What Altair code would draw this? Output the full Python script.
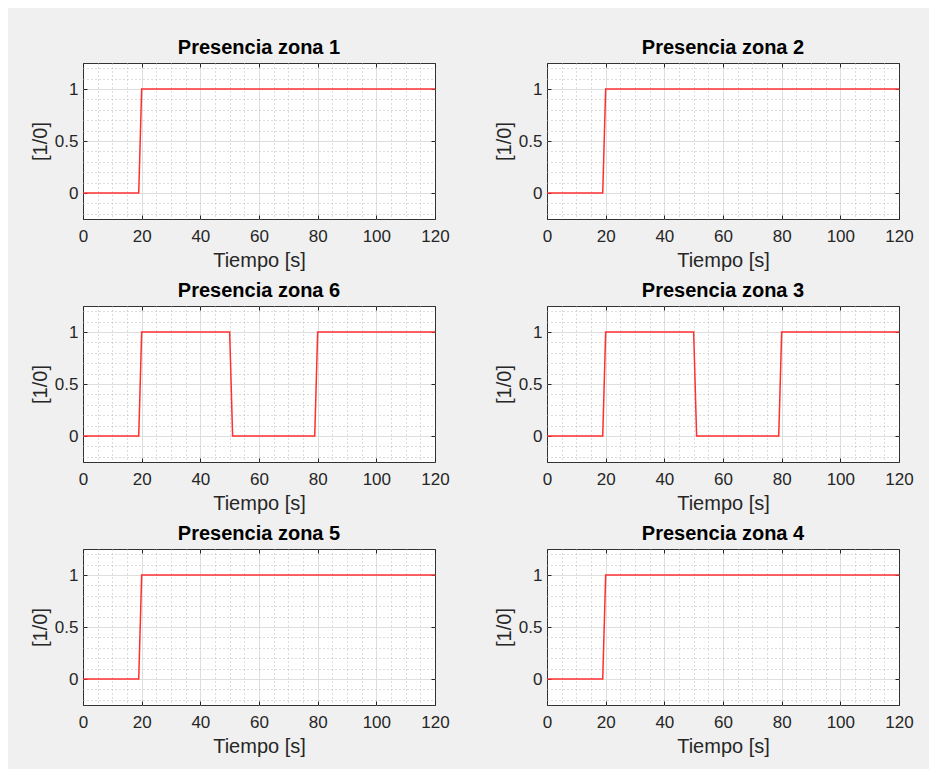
import altair as alt
import pandas as pd

# ---- data ----
panel_titles = ["Presencia zona 1", "Presencia zona 2",
                "Presencia zona 6", "Presencia zona 3",
                "Presencia zona 5", "Presencia zona 4"]
panel_kind = ["step", "step", "pulse", "pulse", "step", "step"]

t_step = [0, 19, 20, 120]
v_step = [0, 0, 1, 1]
t_pulse = [0, 19, 20, 50, 51, 79, 80, 120]
v_pulse = [0, 0, 1, 1, 0, 0, 1, 1]

x_ticks = [0, 20, 40, 60, 80, 100, 120]
x_minor = [v for v in range(0, 121, 5) if v % 20 != 0]
y_ticks = [0, 0.5, 1]
y_minor = [-0.2, -0.1, 0.1, 0.2, 0.3, 0.4, 0.6, 0.7, 0.8, 0.9, 1.1, 1.2]

FONT = "Liberation Sans"
W, H = 352, 156
TICK = 4

hide_edge_grid_x = {"condition": {"test": "datum.value <= 0 || datum.value >= 120", "value": 0}, "value": 1}


def inner_axis(values, orient):
    # axis drawn inside the frame: only tick marks, no labels/grid
    return alt.Axis(values=values, orient=orient, offset=-TICK, tickSize=TICK,
                    ticks=True, tickColor="#262626", tickWidth=1,
                    labels=False, grid=False, domain=False, title=None)


def panel(title, t, v):
    df = pd.DataFrame({"t": t, "v": v})
    xs = alt.Scale(domain=[0, 120], nice=False, zero=False)
    ys = alt.Scale(domain=[-0.25, 1.25], nice=False, zero=False)
    minor = alt.Chart(df).mark_line(opacity=0).encode(
        x=alt.X("t:Q", scale=xs, axis=alt.Axis(
            values=x_minor, grid=True, gridDash=[1, 3], gridColor="#b8b8b8",
            gridWidth=1, labels=False, ticks=False, domain=False, title=None,
            orient="bottom")),
        y=alt.Y("v:Q", scale=ys, axis=alt.Axis(
            values=y_minor, grid=True, gridDash=[1, 3], gridColor="#b8b8b8",
            gridWidth=1, labels=False, ticks=False, domain=False, title=None,
            orient="left")),
    )
    ticks_bl = alt.Chart(df).mark_line(opacity=0).encode(
        x=alt.X("t:Q", scale=xs, axis=inner_axis(x_ticks, "bottom")),
        y=alt.Y("v:Q", scale=ys, axis=inner_axis(y_ticks, "left")),
    )
    ticks_tr = alt.Chart(df).mark_line(opacity=0).encode(
        x=alt.X("t:Q", scale=xs, axis=inner_axis(x_ticks, "top")),
        y=alt.Y("v:Q", scale=ys, axis=inner_axis(y_ticks, "right")),
    )
    major = alt.Chart(df).mark_line(color="#ff3030", strokeWidth=1.5).encode(
        x=alt.X("t:Q", scale=xs, axis=alt.Axis(
            values=x_ticks, grid=True, gridColor="#dedede", gridWidth=1,
            gridOpacity=hide_edge_grid_x,
            ticks=False, tickSize=0, domain=False, title="Tiempo [s]",
            format="d", labelPadding=9, titlePadding=6, orient="bottom",
            labelOverlap=False, labelFlush=False)),
        y=alt.Y("v:Q", scale=ys, axis=alt.Axis(
            values=y_ticks, grid=True, gridColor="#dedede", gridWidth=1,
            ticks=False, tickSize=0, domain=False, title="[1/0]",
            format="~g", labelPadding=5, titlePadding=4, orient="left",
            labelOverlap=False, labelFlush=False)),
    )
    return alt.layer(minor, ticks_bl, ticks_tr, major).resolve_axis(
        x="independent", y="independent"
    ).properties(
        width=W, height=H,
        title=alt.TitleParams(title, fontSize=20, fontWeight="bold", font=FONT,
                              color="black", offset=5, anchor="middle",
                              frame="group"),
    )


panels = []
for title, kind in zip(panel_titles, panel_kind):
    if kind == "step":
        panels.append(panel(title, t_step, v_step))
    else:
        panels.append(panel(title, t_pulse, v_pulse))

chart = alt.concat(
    *panels, columns=2, spacing={"row": 87, "column": 112}, bounds="flush"
).properties(
    background="#f0f0f0",
    padding={"left": 21, "top": 29, "right": 15, "bottom": 12},
).configure_view(
    stroke="#333333", strokeWidth=1, fill="white"
).configure_axis(
    labelFont=FONT, labelFontSize=17, labelColor="#262626",
    titleFont=FONT, titleFontSize=20, titleFontWeight="normal",
    titleColor="#262626",
)

chart.save("out.html", embed_options={"renderer": "svg", "actions": False})
